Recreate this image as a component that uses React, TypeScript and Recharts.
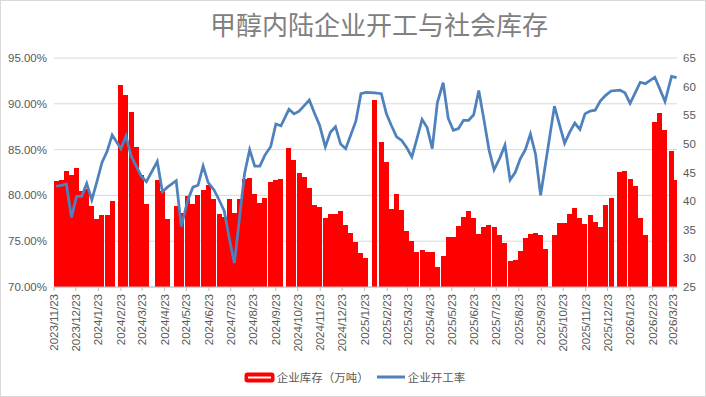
import React from "react";
import { ComposedChart, Bar, Line, XAxis, YAxis, CartesianGrid, Legend } from "recharts";

// weekly report dates (holiday weeks are missing)
const dates = [
  "2023/11/26", "2023/12/3", "2023/12/10", "2023/12/17", "2023/12/24", "2023/12/31", "2024/1/7", "2024/1/14",
  "2024/1/21", "2024/1/28", "2024/2/4", "2024/2/11",
  "2024/2/23", "2024/3/1", "2024/3/8", "2024/3/15", "2024/3/22", "2024/3/29",
  "2024/4/13", "2024/4/20", "2024/4/27",
  "2024/5/9", "2024/5/16",
  "2024/5/25", "2024/6/1", "2024/6/8", "2024/6/15", "2024/6/22",
  "2024/6/30", "2024/7/7", "2024/7/14", "2024/7/21", "2024/7/28", "2024/8/4", "2024/8/11", "2024/8/18", "2024/8/25", "2024/9/1", "2024/9/8",
  "2024/9/16", "2024/9/23", "2024/9/30",
  "2024/10/11", "2024/10/18", "2024/10/25", "2024/11/1", "2024/11/8", "2024/11/15", "2024/11/22",
  "2024/11/30", "2024/12/7", "2024/12/14", "2024/12/21", "2024/12/28", "2025/1/4", "2025/1/11", "2025/1/18", "2025/1/25",
  "2025/2/6",
  "2025/2/15", "2025/2/22", "2025/3/1", "2025/3/8", "2025/3/15", "2025/3/22", "2025/3/29", "2025/4/5", "2025/4/12", "2025/4/19", "2025/4/26", "2025/5/3",
  "2025/5/11", "2025/5/18", "2025/5/25", "2025/6/1", "2025/6/8", "2025/6/15", "2025/6/22", "2025/6/29", "2025/7/6", "2025/7/13", "2025/7/20",
  "2025/7/28", "2025/8/4", "2025/8/11", "2025/8/18", "2025/8/25", "2025/9/1", "2025/9/8", "2025/9/15", "2025/9/22", "2025/9/29",
  "2025/10/11", "2025/10/18", "2025/10/25", "2025/11/1", "2025/11/8", "2025/11/15", "2025/11/22", "2025/11/29", "2025/12/6", "2025/12/13", "2025/12/20",
  "2025/12/28",
  "2026/1/9", "2026/1/16", "2026/1/23", "2026/1/30", "2026/2/6", "2026/2/13",
  "2026/2/26", "2026/3/5", "2026/3/12",
  "2026/3/21", "2026/3/28",
]

// 企业库存（万吨）
const stock = [
  43.5, 43.7, 45.2, 44.6, 45.7, 41.8, 42.2, 39.1,
  36.9, 37.5, 37.6, 40.1,
  60.3, 58.6, 55.6, 49.5, 44.6, 39.5,
  43.7, 41.7, 36.8,
  39.2, 38.0,
  40.9, 39.5, 41.1, 42.0, 42.9,
  40.3, 37.7, 37.2, 40.4, 37.9, 40.3, 43.9, 44.0, 41.2, 39.7, 40.6,
  43.3, 43.7, 43.9,
  49.3, 47.2, 45.0, 44.3, 42.3, 39.3, 39.0,
  37.1, 37.8, 37.8, 38.3, 35.8, 34.4, 32.8, 30.9, 30.1,
  57.7,
  50.3, 46.8, 38.7, 41.2, 38.5, 34.7, 33.0, 31.2, 31.5, 31.2, 31.1, 28.5,
  30.5, 33.7, 33.7, 35.6, 37.2, 38.2, 37.1, 34.3, 35.4, 35.8, 35.4,
  34.1, 32.7, 29.6, 29.8, 31.3, 33.6, 34.3, 34.4, 34.1, 31.7,
  34.1, 36.2, 36.2, 37.8, 38.8, 37.1, 36.0, 37.5, 36.4, 35.4, 39.3,
  40.5,
  45.1, 45.3, 43.9, 42.6, 37.1, 34.1,
  53.8, 55.4, 52.5,
  48.8, 43.7,
]

// 企业开工率 (%)
const rate = [
  81.0, 81.1, 81.25, 77.6, 79.9, 79.9, 81.3, 79.5,
  81.5, 83.6, 84.8, 86.6,
  85.1, 86.5, 84.3, 83.2, 82.1, 81.5,
  83.7, 80.4, 80.9,
  81.6, 76.6,
  79.5, 80.9, 81.1, 83.2, 81.4,
  80.6, 79.5, 78.3, 75.3, 72.6, 77.5, 82.4, 85.0, 83.2, 83.2, 84.4,
  85.35, 87.8, 87.6,
  89.4, 88.9, 89.2, 89.8, 90.4, 89.0, 87.7,
  85.3, 86.9, 87.5, 85.6, 85.1, 86.6, 88.1, 91.1, 91.25,
  91.2,
  91.1, 88.9, 87.6, 86.4, 86.0, 85.2, 84.2, 86.2, 88.3, 87.4, 85.1, 90.1,
  92.3, 88.4, 87.1, 87.3, 88.2, 88.2, 88.8, 91.45, 88.3, 85.0, 82.8,
  84.1, 85.5, 81.7, 82.5, 84.0, 85.0, 86.7, 84.5, 80.0, 83.6,
  89.75, 87.7, 85.7, 86.9, 87.9, 87.2, 88.9, 89.2, 89.3, 90.3, 90.9,
  91.4,
  91.5, 91.2, 90.05, 91.2, 92.35, 92.2,
  92.9, 91.6, 90.25,
  93.0, 92.85,
]

const xTicks = [
  "2023/11/23", "2023/12/23", "2024/1/23", "2024/2/23", "2024/3/23", "2024/4/23", "2024/5/23", "2024/6/23",
  "2024/7/23", "2024/8/23", "2024/9/23", "2024/10/23", "2024/11/23", "2024/12/23", "2025/1/23", "2025/2/23",
  "2025/3/23", "2025/4/23", "2025/5/23", "2025/6/23", "2025/7/23", "2025/8/23", "2025/9/23", "2025/10/23",
  "2025/11/23", "2025/12/23", "2026/1/23", "2026/2/23", "2026/3/23",
]
const rateTicks = [70, 75, 80, 85, 90, 95]
const stockTicks = [25, 30, 35, 40, 45, 50, 55, 60, 65]

const NUM_FONT = '"Liberation Sans", Arial, sans-serif'
const CJK_FONT = '"Noto Sans CJK SC", "Noto Sans", sans-serif'
const TEXT = "#595959"

const START = Date.UTC(2023, 10, 23)
const toDay = (s: string) => {
  const [y, m, d] = s.split("/").map(Number)
  return Math.round((Date.UTC(y, m - 1, d) - START) / 86400000)
}

const data = dates.map((d, i) => ({ date: d, day: toDay(d), stock: stock[i], rate: rate[i] }))
const tickDays = xTicks.map(toDay)
const tickLabel = new Map(tickDays.map((d, i) => [d, xTicks[i]]))

function DateTick({ x, y, payload }: any) {
  return (
    <text
      x={x}
      y={y}
      transform={`rotate(-90, ${x}, ${y})`}
      textAnchor="end"
      dy="0.35em"
      fill={TEXT}
      fontSize={11.5}
      fontFamily={NUM_FONT}
    >
      {tickLabel.get(payload.value)}
    </text>
  )
}

function LegendContent() {
  return (
    <div
      style={{
        display: "flex",
        justifyContent: "center",
        alignItems: "center",
        height: 24,
        fontFamily: CJK_FONT,
        fontSize: 11.5,
        color: TEXT,
      }}
    >
      <svg width={31} height={11}>
        <rect x={0.5} y={0.5} width={30} height={10} rx={3} fill="#ff0000" />
        <line x1={4} x2={27} y1={5.5} y2={5.5} stroke="#ffffff" strokeWidth={2} />
      </svg>
      <span style={{ marginLeft: 2 }}>企业库存（万吨）</span>
      <svg width={28} height={4} style={{ marginLeft: 8 }}>
        <line x1={0} x2={28} y1={2} y2={2} stroke="#4f81bd" strokeWidth={3} />
      </svg>
      <span style={{ marginLeft: 3 }}>企业开工率</span>
    </div>
  )
}

export default function App() {
  return (
    <div style={{ position: "absolute", left: 0, top: 0, width: 706, height: 397, background: "#fff" }}>
      <div
        style={{
          position: "absolute",
          left: 0,
          top: 11,
          width: 758,
          textAlign: "center",
          fontFamily: CJK_FONT,
          fontSize: 26,
          lineHeight: "26px",
          color: "#808080",
        }}
      >
        甲醇内陆企业开工与社会库存
      </div>
      <ComposedChart
        width={706}
        height={397}
        data={data}
        margin={{ top: 58, right: 5, bottom: 8, left: 8 }}
        barCategoryGap={0}
        barGap={0}
      >
        <CartesianGrid yAxisId="rate" vertical={false} stroke="#d9d9d9" />
        <XAxis
          type="number"
          dataKey="day"
          domain={[0, 856.5]}
          allowDataOverflow
          ticks={tickDays}
          interval={0}
          tick={<DateTick />}
          height={78}
          tickSize={4}
          tickMargin={3}
          stroke="#bfbfbf"
        />
        <YAxis
          yAxisId="rate"
          orientation="left"
          domain={[70, 95]}
          ticks={rateTicks}
          width={46}
          axisLine={false}
          tickLine={false}
          tickSize={5}
          tickMargin={2}
          tickFormatter={(v: number) => `${v.toFixed(2)}%`}
          tick={{ fill: TEXT, fontSize: 11.5, fontFamily: NUM_FONT }}
        />
        <YAxis
          yAxisId="stock"
          orientation="right"
          domain={[25, 65]}
          ticks={stockTicks}
          width={24}
          axisLine={false}
          tickLine={false}
          tickSize={4}
          tickMargin={2}
          tick={{ fill: TEXT, fontSize: 11.5, fontFamily: NUM_FONT }}
        />
        <Legend verticalAlign="bottom" height={24} content={<LegendContent />} />
        <Bar
          yAxisId="stock"
          dataKey="stock"
          name="企业库存（万吨）"
          fill="#ff0000"
          shapeRendering="crispEdges"
          isAnimationActive={false}
        />
        <Line
          yAxisId="rate"
          type="linear"
          dataKey="rate"
          name="企业开工率"
          stroke="#4f81bd"
          strokeWidth={2.75}
          dot={false}
          activeDot={false}
          isAnimationActive={false}
        />
      </ComposedChart>
      <div
        style={{
          position: "absolute",
          left: 0,
          top: 0,
          width: 706,
          height: 397,
          boxSizing: "border-box",
          border: "1px solid #d9d9d9",
          pointerEvents: "none",
        }}
      />
    </div>
  )
}
